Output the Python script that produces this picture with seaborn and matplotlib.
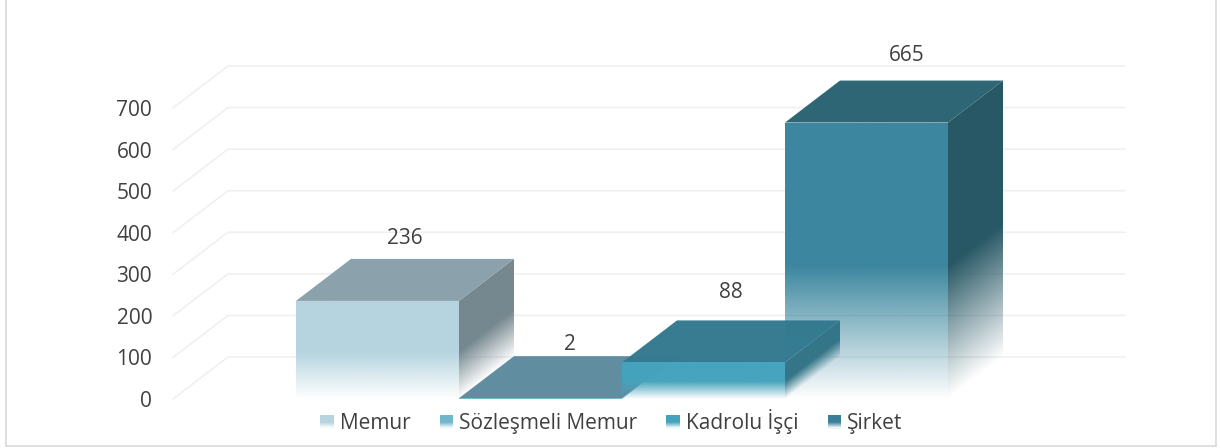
import matplotlib
matplotlib.use('Agg')
import matplotlib.pyplot as plt
import seaborn as sns
import numpy as np
from matplotlib.colors import to_rgb
from matplotlib.legend_handler import HandlerBase
from matplotlib.patches import Patch, Polygon, Rectangle

# Data
categories = ['Memur', 'Sözleşmeli Memur', 'Kadrolu İşçi', 'Şirket']
values = [236, 2, 88, 665]
y_ticks = [0, 100, 200, 300, 400, 500, 600, 700]

# Face colours per series
front_colors = ['#B5D4DF', '#6FB6CC', '#45A3BD', '#3A859E']
top_colors = ['#8AA0AA', '#5E8C9E', '#347A90', '#2B6473']
side_colors = ['#74878E', '#4F7F90', '#337588', '#255663']
legend_colors = ['#B5D4DF', '#6FB6CC', '#45A3BD', '#3A7F98']
text_color = '#404040'

W, H = 1221, 448
PX_PER_CAT = 163
PX_PER_UNIT = 0.4157
BASE_Y = 399
DX = 55 / PX_PER_CAT    # depth of the fake 3D, in data units
DY = 42 / PX_PER_UNIT
FADE = 0.48             # lower part of a bar that fades out
FACE_ALPHA = 0.99

sns.set_theme(style='white')
plt.rcParams['font.family'] = ['Open Sans', 'DejaVu Sans']

fig = plt.figure(figsize=(W / 100, H / 100), dpi=100)
ax = fig.add_axes([173 / W, (H - BASE_Y) / H, (1125 - 173) / W, (BASE_Y - 30) / H])

positions = np.arange(len(categories))
sns.barplot(x=positions, y=values, hue=categories, palette=front_colors,
            width=1.0, legend=False, native_scale=True, dodge=False, ax=ax)


def fade_face(x0, x1, v, lift, color, zorder):
    # image with a vertical fade, clipped to a face whose right edge is raised by lift
    u, s = np.meshgrid(np.linspace(0, 1, 300), np.linspace(0, 1, 600))
    y = s * (v + lift)
    a = np.clip((y - lift * u) / (FADE * v), 0, 1) * FACE_ALPHA
    rgba = np.dstack([np.full(a.shape, c) for c in to_rgb(color)] + [a])
    im = ax.imshow(rgba, extent=(x0, x1, 0, v + lift), origin='lower', aspect='auto',
                   interpolation='bilinear', zorder=zorder)
    clip = Polygon([(x0, 0), (x1, lift), (x1, v + lift), (x0, v)], closed=True,
                   transform=ax.transData)
    im.set_clip_path(clip)


# Kadrolu is drawn last since it sits over Sözleşmeli and Şirket
draw_order = [0, 3, 1, 2]
for i in draw_order:
    bar = ax.containers[i][0]
    bar.set_facecolor('none')
    bar.set_edgecolor('none')
    x0, x1 = bar.get_x(), bar.get_x() + bar.get_width()
    v = bar.get_height()
    z = 3 + draw_order.index(i)
    fade_face(x1, x1 + DX, v, DY, side_colors[i], z)
    ax.add_patch(Polygon([(x0, v), (x1, v), (x1 + DX, v + DY), (x0 + DX, v + DY)],
                         closed=True, fc=top_colors[i], ec='none', alpha=FACE_ALPHA, zorder=z))
    fade_face(x0, x1, v, 0, front_colors[i], z + 0.5)

xmin, xmax = (173 - 377.5) / PX_PER_CAT, (1125 - 377.5) / PX_PER_CAT
ax.set_xlim(xmin, xmax)
ax.set_ylim(0, (BASE_Y - 30) / PX_PER_UNIT)

# Gridlines run up the floor side wall, then along the back wall
for t in y_ticks:
    ax.plot([xmin, xmin + DX, xmax], [t, t + DY, t + DY], color='#F0F0F0', lw=1.2,
            zorder=1, clip_on=False, solid_joinstyle='miter')

ax.set_yticks(y_ticks)
ax.set_xticks([])
ax.set_xlabel('')
ax.tick_params(axis='y', length=0, pad=15, labelsize=15, labelcolor=text_color)
sns.despine(ax=ax, left=True, bottom=True)

# Data labels, nudged by hand as in the original
label_shift = [(0, 20), (2, 12), (0, 28), (13, 25)]
for i, val in enumerate(values):
    ax.annotate(str(val), xy=(i + DX / 2, val + DY),
                xytext=(label_shift[i][0] * 0.72, label_shift[i][1] * 0.72),
                textcoords='offset points', ha='center', va='center',
                fontsize=15, color=text_color, zorder=10)


class FadeHandler(HandlerBase):
    def create_artists(self, legend, orig, xd, yd, width, height, fontsize, trans):
        parts = []
        n = 13
        box = height * 0.92
        for k in range(n):
            a = min(1.0, (k + 0.5) / (n * 0.45))
            parts.append(Rectangle((-xd + 2, -yd + box * k / n), width, box / n,
                                   fc=orig.get_facecolor(), ec='none', alpha=a,
                                   antialiased=False, transform=trans))
        return parts


handles = [Patch(facecolor=c, label=n) for c, n in zip(legend_colors, categories)]
fig.legend(handles=handles, loc='center', bbox_to_anchor=(610 / W, (H - 421) / H),
           ncol=4, frameon=False, fontsize=15, labelcolor=text_color,
           handler_map={Patch: FadeHandler()}, handlelength=0.65, handletextpad=0.42,
           columnspacing=1.27, borderpad=0, borderaxespad=0)

# Chart frame
for xy in [([6, 6], [0, 446]), ([1216, 1216], [0, 446]), ([6, 1216], [446, 446])]:
    fig.add_artist(plt.Line2D(np.array(xy[0]) / W, 1 - np.array(xy[1]) / H, color='#D9D9D9', lw=1.2))

fig.savefig('out.png', dpi=100, facecolor='white')
